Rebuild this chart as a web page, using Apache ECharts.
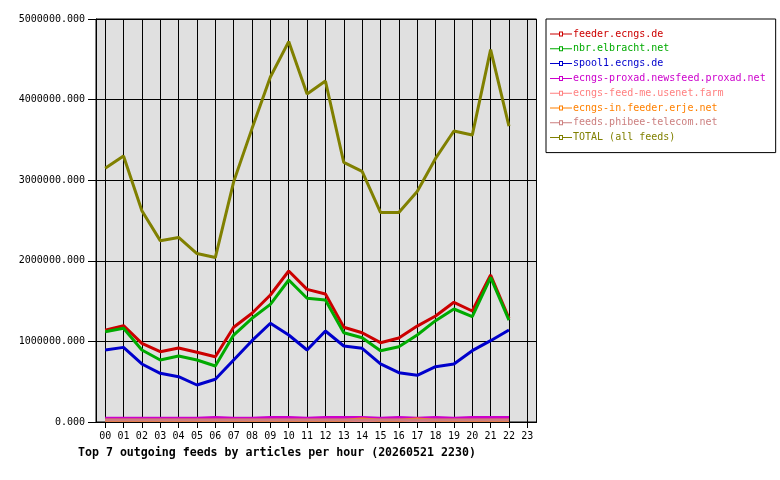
<!DOCTYPE html>
<html>
<head>
    <meta charset="utf-8">
    <title>Top 7 outgoing feeds</title>
    <script src="https://cdn.jsdelivr.net/npm/echarts@6/dist/echarts.min.js"></script>
    <style>
        html, body { margin: 0; padding: 0; background: #fff; }
        #chart { width: 780px; height: 480px; }
    </style>
</head>
<body>
    <div id="chart"></div>
    <script>
        // hours 00..23, data only up to 22
        var hours = ['00', '01', '02', '03', '04', '05', '06', '07', '08', '09', '10', '11',
            '12', '13', '14', '15', '16', '17', '18', '19', '20', '21', '22', '23'];
        var yTicks = [0, 1000000, 2000000, 3000000, 4000000, 5000000];

        var feeder = [1140000, 1195000, 976000, 872000, 918000, 865000, 810000, 1175000, 1350000, 1576000, 1873000, 1646000,
            1588000, 1175000, 1108000, 984000, 1042000, 1190000, 1315000, 1485000, 1377000, 1824000, 1287000, '-'];
        var nbr = [1120000, 1162000, 893000, 769000, 819000, 769000, 695000, 1079000, 1287000, 1460000, 1762000, 1535000,
            1514000, 1108000, 1046000, 885000, 934000, 1079000, 1257000, 1402000, 1306000, 1795000, 1265000, '-'];
        var spool1 = [893000, 926000, 720000, 604000, 562000, 459000, 530000, 769000, 1009000, 1225000, 1079000, 893000,
            1129000, 943000, 914000, 720000, 612000, 579000, 686000, 720000, 885000, 1009000, 1141000, '-'];
        var proxad = [45000, 45000, 45000, 45000, 45000, 45000, 56000, 45000, 45000, 56000, 56000, 45000,
            56000, 56000, 56000, 45000, 56000, 45000, 56000, 45000, 56000, 56000, 56000, '-'];
        var feedMe = [18000, 18000, 18000, 18000, 18000, 18000, 18000, 18000, 18000, 18000, 18000, 18000,
            18000, 18000, 18000, 18000, 18000, 18000, 18000, 18000, 18000, 18000, 18000, '-'];
        var erje = [22000, 22000, 22000, 22000, 22000, 22000, 22000, 22000, 22000, 22000, 22000, 22000,
            22000, 22000, 38000, 22000, 22000, 38000, 22000, 22000, 22000, 22000, 22000, '-'];
        var phibee = [25000, 25000, 25000, 25000, 25000, 25000, 25000, 25000, 25000, 25000, 25000, 25000,
            25000, 25000, 25000, 25000, 25000, 25000, 25000, 25000, 25000, 25000, 25000, '-'];
        var total = [3148000, 3300000, 2620000, 2250000, 2290000, 2090000, 2040000, 2980000, 3640000, 4280000, 4720000, 4070000,
            4230000, 3220000, 3110000, 2600000, 2600000, 2860000, 3270000, 3610000, 3560000, 4620000, 3670000, '-'];

        var feeds = [
            { name: 'feeder.ecngs.de', color: '#cc0000', data: feeder },
            { name: 'nbr.elbracht.net', color: '#00aa00', data: nbr },
            { name: 'spool1.ecngs.de', color: '#0000cc', data: spool1 },
            { name: 'ecngs-proxad.newsfeed.proxad.net', color: '#cc00cc', data: proxad },
            { name: 'ecngs-feed-me.usenet.farm', color: '#ff8080', data: feedMe },
            { name: 'ecngs-in.feeder.erje.net', color: '#ff8000', data: erje },
            { name: 'feeds.phibee-telecom.net', color: '#cc7f7f', data: phibee },
            { name: 'TOTAL (all feeds)', color: '#808000', data: total }
        ];

        var mono = 'DejaVu Sans Mono';
        var icon = 'path://M0,2h9v1h-9z M13,2h9v1h-9z M9,0h4v1h-4z M9,4h4v1h-4z M9,0h1v5h-1z M12,0h1v5h-1z';

        var series = [];
        var legendData = [];
        for (var i = 0; i < feeds.length; i++) {
            series.push({
                name: feeds[i].name,
                type: 'line',
                data: feeds[i].data,
                symbol: 'none',
                color: feeds[i].color,
                lineStyle: { width: 3, color: feeds[i].color },
                animation: false
            });
            legendData.push({ name: feeds[i].name, icon: icon, textStyle: { color: feeds[i].color } });
        }

        var chart = echarts.init(document.getElementById('chart'));
        var option = {
            backgroundColor: '#fff',
            animation: false,
            title: {
                text: 'Top 7 outgoing feeds by articles per hour (20260521 2230)',
                left: 73,
                top: 442,
                textStyle: { fontFamily: mono, fontSize: 11.6, fontWeight: 'bold', color: '#000' }
            },
            legend: {
                orient: 'vertical',
                left: 546,
                top: 19,
                padding: [10, 10, 10, 4],
                itemGap: 4.8,
                itemWidth: 22,
                itemHeight: 10,
                borderColor: '#000',
                borderWidth: 1,
                selectedMode: false,
                textStyle: { fontFamily: mono, fontSize: 10, padding: [0, 0, 0, -4] },
                data: legendData
            },
            grid: {
                left: 96,
                right: 243.5,
                top: 19,
                bottom: 58,
                show: true,
                backgroundColor: '#e0e0e0',
                borderColor: '#000',
                borderWidth: 1
            },
            xAxis: {
                type: 'category',
                data: hours,
                boundaryGap: true,
                axisLine: { lineStyle: { color: '#000', width: 1 } },
                axisTick: { show: true, alignWithLabel: true, length: 6, lineStyle: { color: '#000' } },
                splitLine: { show: true, alignWithLabel: true, lineStyle: { color: '#000', width: 1 } },
                axisLabel: { interval: 0, margin: 9, fontFamily: mono, fontSize: 10, color: '#000' }
            },
            yAxis: {
                type: 'value',
                min: yTicks[0],
                max: yTicks[yTicks.length - 1],
                interval: yTicks[1] - yTicks[0],
                axisLine: { show: true, lineStyle: { color: '#000' } },
                axisTick: { show: true, length: 8, lineStyle: { color: '#000' } },
                splitLine: { show: true, lineStyle: { color: '#000', width: 1 } },
                axisLabel: {
                    margin: 11,
                    fontFamily: mono,
                    fontSize: 10,
                    color: '#000',
                    formatter: function (v) { return v.toFixed(3); }
                }
            },
            series: series
        };
        chart.setOption(option);
    </script>
</body>
</html>
